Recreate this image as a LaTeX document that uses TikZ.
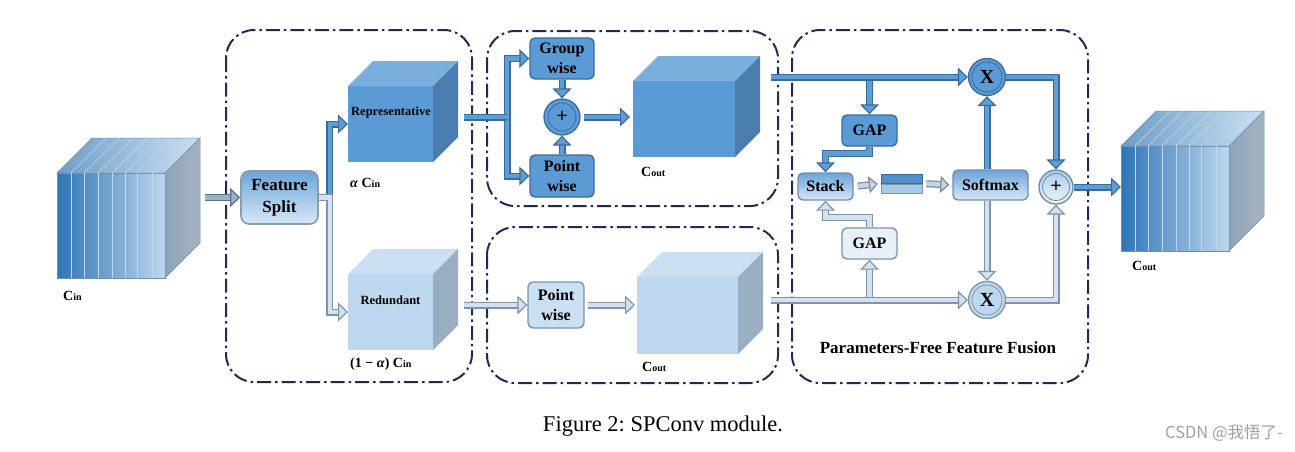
\documentclass[tikz,border=0pt]{standalone}
\usepackage{fontspec}
\setmainfont{Liberation Serif}
\newfontfamily\cjkfont{Noto Sans CJK SC}
\usetikzlibrary{arrows.meta,calc}
\frenchspacing
\definecolor{navy}{HTML}{1F2A5C}
\definecolor{bB}{HTML}{3A6C9B}
\definecolor{bF}{HTML}{5E9DD6}
\definecolor{lB}{HTML}{7F94A8}
\definecolor{lF}{HTML}{D2E2F0}
\definecolor{gB}{HTML}{5F7386}
\definecolor{gF}{HTML}{9AB2C8}
\definecolor{qB}{HTML}{7A8A99}
\definecolor{qF}{HTML}{C8D4E0}
\definecolor{repF}{HTML}{5B9BD5}
\definecolor{repT}{HTML}{7AAEDD}
\definecolor{repR}{HTML}{4A7DAF}
\definecolor{redF}{HTML}{BDD7EE}
\definecolor{redT}{HTML}{CADFF1}
\definecolor{redR}{HTML}{99AEC1}
\definecolor{edge}{HTML}{6F8FB0}
\definecolor{deepB}{HTML}{2E75B6}
\definecolor{sideA}{HTML}{8DA3B8}
\definecolor{sideB}{HTML}{A6B5C3}
\definecolor{barD}{HTML}{4F8FCB}
\definecolor{barL}{HTML}{A9CBEA}
\definecolor{fsB}{HTML}{8E9BA8}
\definecolor{gapL}{HTML}{E8F1F9}
\definecolor{paleB}{HTML}{F0F6FC}
\definecolor{plusB}{HTML}{6A88A5}
\definecolor{wmG}{HTML}{A0A0A0}
\newcommand\mycube[9]{%
  \node[#7, minimum width={(#4-#2)*1pt}, minimum height={(#5-#3)*1pt}, inner sep=0pt, outer sep=0pt] (#1) at ({(#2+#4)/2},{(#3+#5)/2}) {};
  \path[#8] (#1.north west) -- ++(#6,-#6) -- ++({#4-#2},0) -- (#1.north east) -- cycle;
  \path[#9] (#1.north east) -- ++(#6,-#6) -- ++(0,{#5-#3}) -- (#1.south east) -- cycle;
}
\tikzset{
  pipe/.style 2 args={draw=#1, double=#2, line width=1.2pt, double distance=4.6pt},
  arrB/.style={pipe={bB}{bF}, -{Triangle[length=10pt,width=19pt,fill=bF]}},
  arrL/.style={pipe={lB}{lF}, -{Triangle[length=10pt,width=19pt,fill=lF]}},
  arrG/.style={pipe={gB}{gF}, -{Triangle[length=10pt,width=19pt,fill=gF]}},
  arrQ/.style={pipe={qB}{qF}, -{Triangle[length=9pt,width=17pt,fill=qF]}, shorten <=4pt, shorten >=3pt},
  region/.style={draw=navy, line width=2pt, dash pattern=on 14pt off 4pt on 2.5pt off 4pt, rounded corners=28pt},
  blk/.style={font=\bfseries\fontsize{16}{20}\selectfont, align=center, inner sep=0pt, rounded corners=5pt, line width=1.4pt},
  blueblk/.style={blk, fill=repF, draw=bB},
  lightblk/.style={blk, fill=redF!80!white, draw=lB},
  gradblk/.style={blk, top color=repF!90!white, bottom color=redF!60!white, draw=edge},
  opnode/.style={circle, inner sep=0pt, line width=1.3pt, font=\bfseries\fontsize{20}{20}\selectfont},
  stripe/.style={draw=white!60!repF, line width=0.6pt},
  lab/.style={anchor=west, inner sep=0pt, font=\bfseries\fontsize{14}{14}\selectfont},
}
\newcommand\Csub[1]{{\fontsize{14}{14}\selectfont C}{\fontsize{10}{10}\selectfont #1}}
\begin{document}
\begin{tikzpicture}[x=1pt,y=-1pt]
\useasboundingbox (0,0) rectangle (1295,451);
\fill[white] (0,0) rectangle (1295,451);

% regions
\draw[region] (226,30) rectangle (472,382);
\draw[region] (487,31) rectangle (778,206);
\draw[region] (487,227) rectangle (778,383);
\draw[region] (792,30) rectangle (1088,383);

% input cube
\mycube{cin}{57}{173}{165}{278}{35}{left color=deepB, right color=redF, draw=edge, line width=0.5pt}{left color=repT!90!black, right color=redT, draw=edge, line width=0.5pt}{left color=sideA, right color=sideB, draw=edge, line width=0.5pt}
\foreach \f in {0.13,0.25,0.38,0.51,0.63,0.74,0.88}{
  \draw[stripe] ($(cin.north west)!\f!(cin.north east)$) -- ($(cin.south west)!\f!(cin.south east)$);
  \draw[stripe] ($(cin.north west)!\f!(cin.north east)$) -- ++(35,-35);
}
\node[lab] (cinl) at (63,296) {\Csub{in}};

% output cube
\mycube{out}{1121}{146}{1229}{251}{35}{left color=deepB, right color=redF, draw=edge, line width=0.5pt}{left color=repT!90!black, right color=redT, draw=edge, line width=0.5pt}{left color=sideA, right color=sideB, draw=edge, line width=0.5pt}
\foreach \f in {0.13,0.25,0.38,0.51,0.63,0.74,0.88}{
  \draw[stripe] ($(out.north west)!\f!(out.north east)$) -- ($(out.south west)!\f!(out.south east)$);
  \draw[stripe] ($(out.north west)!\f!(out.north east)$) -- ++(35,-35);
}
\node[lab] (outl) at (1132,266) {\Csub{out}};

% split cubes
\mycube{rep}{348}{86}{433}{162}{25}{fill=repF}{fill=repT}{fill=repR}
\node[anchor=north west, inner sep=0pt, font=\bfseries\fontsize{12.5}{12.5}\selectfont] (repl) at (351,107) {Representative};
\node[lab] (al) at (350,183) {\textit{α} \Csub{in}};
\mycube{red}{348}{274}{433}{350}{25}{fill=redF}{fill=redT}{fill=redR}
\node[font=\bfseries\fontsize{12.5}{12.5}\selectfont, inner sep=0pt] (redl) at (390.5,300) {Redundant};
\node[lab] (bl) at (350,364) {(1 − \textit{α}) \Csub{in}};

\mycube{ct}{633}{81}{735}{157}{25}{fill=repF}{fill=repT}{fill=repR}
\node[lab] (ctl) at (641,172) {\Csub{out}};
\mycube{cb}{637}{277}{738}{354}{25}{fill=redF}{fill=redT}{fill=redR}
\node[lab] (cbl) at (642,367) {\Csub{out}};

% blocks
\node[gradblk, draw=fsB, rounded corners=8pt, line width=1.6pt, minimum width=77pt, minimum height=53pt, font=\bfseries\fontsize{17}{22}\selectfont] (fs) at (279.5,197.5) {Feature\\Split};
\node[blueblk, minimum width=64pt, minimum height=41pt] (gw) at (562,58.5) {Group\\wise};
\node[blueblk, minimum width=64pt, minimum height=42pt] (pw1) at (562,176) {Point\\wise};
\node[opnode, fill=repF, draw=bB, minimum size=36pt] (p1) at (562,117) {+};
\draw[bB, line width=0.8pt] (p1.center) circle (14);
\node[lightblk, minimum width=56pt, minimum height=46pt] (pw2) at (556,305) {Point\\wise};

\node[blueblk, minimum width=55pt, minimum height=31pt] (g1) at (869.5,130.5) {GAP};
\node[lightblk, fill=gapL, minimum width=55pt, minimum height=31pt] (g2) at (869.5,243.5) {GAP};
\node[gradblk, minimum width=55pt, minimum height=27pt] (st) at (825.5,186.5) {Stack};
\node[minimum width=41pt, minimum height=19pt, inner sep=0pt] (sb) at (901.5,183.5) {};
\fill[barD, draw=bB, line width=0.6pt] (sb.north west) rectangle ($(sb.east)+(0,-0.5)$);
\fill[barL, draw=lB, line width=0.6pt] ($(sb.west)+(0,0.5)$) rectangle (sb.south east);
\node[gradblk, minimum width=75pt, minimum height=30pt] (sm) at (990.5,185) {Softmax};
\node[opnode, fill=repF, draw=bB, minimum size=37pt] (xt) at (987,77) {X};
\draw[bB, line width=0.8pt] (xt.center) circle (15);
\node[opnode, fill=redF, draw=lB, minimum size=37pt] (xb) at (987,300) {X};
\draw[lB, line width=0.8pt] (xb.center) circle (15);
\node[opnode, top color=barL, bottom color=paleB, draw=plusB, minimum size=34pt] (p2) at (1056,187) {+};
\draw[plusB, line width=0.8pt] (p2.center) circle (13.5);
\node[font=\bfseries\fontsize{17}{17}\selectfont, inner sep=0pt] (pff) at (938,348) {Parameters-Free Feature Fusion};

% connectors
\coordinate (cinout) at (205,197.5);
\draw[arrG] (cinout) -- (fs.west);
\draw[arrB] (fs.east) -- ++(11,0) |- (rep.west);
\draw[arrL] (fs.east) -- ++(11,0) |- (red.west);

\coordinate (repout) at (464,117);
\coordinate (j1) at (507,117);
\draw[arrB] (j1) |- (gw.west);
\draw[arrB] (j1) |- (pw1.west);
\draw[pipe={bB}{bF}] (repout) -- (j1);
\draw[arrB] (gw.south) -- (p1.north);
\draw[arrB] (pw1.north) -- (p1.south);
\draw[arrB, shorten <=3pt, shorten >=3pt] (p1.east) -- (p1.east -| ct.west);

\coordinate (redout) at (464,305);
\draw[arrL] (redout) -- (pw2.west);
\draw[arrL, shorten <=3pt, shorten >=2pt] (pw2.east) -- (pw2.east -| cb.west);

\coordinate (t0) at (771,77);
\coordinate (b0) at (771,300);
\draw[arrB] (g1.north |- t0) -- (g1.north);
\draw[arrB] (t0) -- (xt.west);
\draw[arrB] (g1.south) -- ++(0,7) -| (st.north);
\draw[arrQ] (st.east) -- (sb.west);
\draw[arrQ] (sb.east) -- (sm.west);
\draw[arrB] (sm.north -| xt.south) -- (xt.south);
\draw[arrL] (sm.south -| xb.north) -- (xb.north);
\draw[arrB] (xt.east) -| (p2.north);
\draw[arrL] (xb.east) -| (p2.south);
\draw[arrL] (g2.south |- b0) -- (g2.south);
\draw[arrL] (b0) -- (xb.west);
\draw[arrL] (g2.north) -- ++(0,-10) -| (st.south);
\draw[arrB] (p2.east) -- (p2.east -| out.west);

% caption
\node[font=\fontsize{22.5}{22.5}\selectfont, inner sep=0pt] (cap) at (663,426) {Figure 2: SPConv module.};
\node[font=\cjkfont\fontsize{16.5}{16.5}\selectfont, text=wmG, inner sep=0pt] (wm) at (1224,433) {CSDN @我悟了-};
\end{tikzpicture}
\end{document}
